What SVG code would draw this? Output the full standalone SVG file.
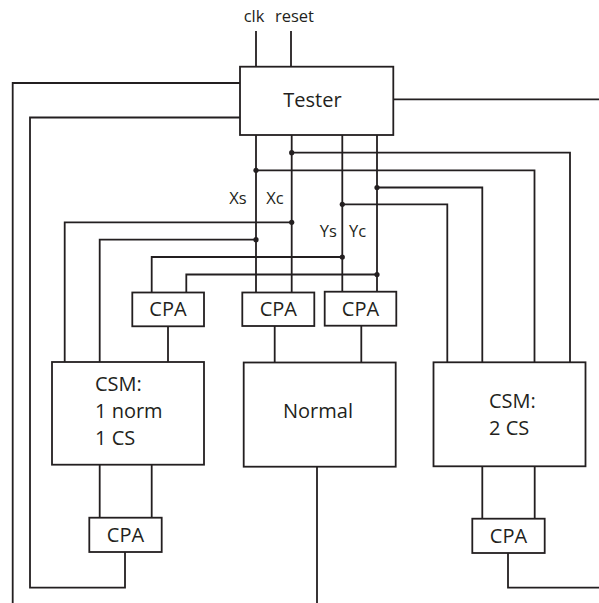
<svg xmlns="http://www.w3.org/2000/svg" width="599" height="603" viewBox="0 0 599 603">
<style>
.box{fill:#fff;stroke:#231f20;stroke-width:1.8}
.w{fill:none;stroke:#231f20;stroke-width:1.8}
.lbl{font-family:"Open Sans","Liberation Sans",Arial,sans-serif;font-size:20px;fill:#231f20}
.sm{font-family:"Open Sans","Liberation Sans",Arial,sans-serif;font-size:16.5px;fill:#231f20}
.dot{fill:#231f20}
</style>
<rect width="599" height="603" fill="#fff"/>
<g id="connectors">
<path class="w" d="M256,31V67M291,31V67"/>
<path class="w" d="M240,83H12.7V603"/>
<path class="w" d="M240,117.5H30V587.7H125V552"/>
<path class="w" d="M393.3,99.3H599"/>
<path class="w" d="M256,135V292.5M291.7,135V292.5M342.3,135V292M377,135V292"/>
<path class="w" d="M291.7,152.7H570V362"/>
<path class="w" d="M256,170.3H534.5V362"/>
<path class="w" d="M377,187.5H482.3V362"/>
<path class="w" d="M342.3,204.3H447.3V362"/>
<path class="w" d="M291.7,222.3H64.7V362"/>
<path class="w" d="M256,239.7H99.7V362"/>
<path class="w" d="M342.3,257H151.7V292.5"/>
<path class="w" d="M377,274.5H186.3V292.5"/>
<path class="w" d="M168,326.3V362M274.7,326V362.5M361.3,325.7V362.5"/>
<path class="w" d="M99.7,464.7V517.7M151.7,464.7V517.7"/>
<path class="w" d="M482.3,466.3V518.7M534.7,466.3V518.7"/>
<path class="w" d="M508,553V587.7H599"/>
<path class="w" d="M317,466.7V603"/>
<circle class="dot" cx="291.7" cy="152.7" r="2.6"/>
<circle class="dot" cx="256" cy="170.3" r="2.6"/>
<circle class="dot" cx="377" cy="187.5" r="2.6"/>
<circle class="dot" cx="342.3" cy="204.3" r="2.6"/>
<circle class="dot" cx="291.7" cy="222.3" r="2.6"/>
<circle class="dot" cx="256" cy="239.7" r="2.6"/>
<circle class="dot" cx="342.3" cy="257" r="2.6"/>
<circle class="dot" cx="377" cy="274.5" r="2.6"/>
<text class="sm" x="254" y="22" text-anchor="middle">clk</text>
<text class="sm" x="294.5" y="22" text-anchor="middle">reset</text>
<text class="sm" x="238" y="204.3" text-anchor="middle">Xs</text>
<text class="sm" x="275" y="204.3" text-anchor="middle">Xc</text>
<text class="sm" x="328.3" y="237.3" text-anchor="middle">Ys</text>
<text class="sm" x="357.5" y="237.3" text-anchor="middle">Yc</text>
</g>
<g id="tester">
<rect class="box" x="240" y="66.7" width="153.3" height="68.3"/>
<text class="lbl" x="312.5" y="106.7" text-anchor="middle">Tester</text>
</g>
<g id="cpa1">
<rect class="box" x="132.3" y="292.5" width="71.7" height="33.8"/>
<text class="lbl" x="168" y="316" text-anchor="middle">CPA</text>
</g>
<g id="cpa2">
<rect class="box" x="242.3" y="292.5" width="72" height="33.5"/>
<text class="lbl" x="278.3" y="316" text-anchor="middle">CPA</text>
</g>
<g id="cpa3">
<rect class="box" x="324.7" y="291.7" width="71.6" height="34"/>
<text class="lbl" x="360.5" y="315.5" text-anchor="middle">CPA</text>
</g>
<g id="csm-left">
<rect class="box" x="52" y="362" width="152" height="102.7"/>
<text class="lbl" x="95" y="390.5">CSM:</text>
<text class="lbl" x="95" y="417.5">1 norm</text>
<text class="lbl" x="95" y="445">1 CS</text>
</g>
<g id="normal">
<rect class="box" x="243.7" y="362.5" width="152" height="104.2"/>
<text class="lbl" x="318" y="418.3" text-anchor="middle">Normal</text>
</g>
<g id="csm-right">
<rect class="box" x="433.5" y="362.3" width="152" height="104"/>
<text class="lbl" x="489" y="408">CSM:</text>
<text class="lbl" x="489" y="435">2 CS</text>
</g>
<g id="cpa4">
<rect class="box" x="89.3" y="517.7" width="72.4" height="34.3"/>
<text class="lbl" x="125.5" y="541.7" text-anchor="middle">CPA</text>
</g>
<g id="cpa5">
<rect class="box" x="472.3" y="518.7" width="72.4" height="34.3"/>
<text class="lbl" x="508.5" y="542.7" text-anchor="middle">CPA</text>
</g>
</svg>
